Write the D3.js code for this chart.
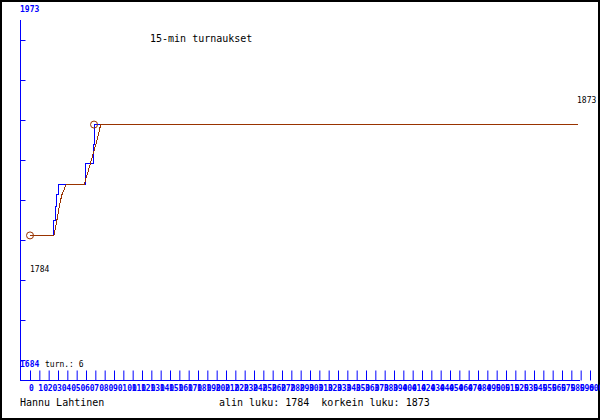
<!DOCTYPE html>
<html>
<head>
<meta charset="utf-8">
<script src="https://cdn.jsdelivr.net/npm/d3@7"></script>
<style>
  body { margin: 0; background: #fff; }
  svg text { font-family: "DejaVu Sans Mono", monospace; white-space: pre; }
</style>
</head>
<body>
<div id="chart"></div>
<script>
// rating history (x = game index, y = rating)
const actualX = [0, 25.7, 26.8, 28.9, 30.7, 59.5, 67.8, 68.6, 587];
const actualY = [1784, 1796, 1807, 1817, 1824.5, 1842, 1856.7, 1873, 1873];
const smoothX = [0, 25.7, 27.9, 31.1, 34, 38.6, 57.9, 62.1, 66.4, 70.7, 75.8, 587];
const smoothY = [1784, 1784, 1792.3, 1806, 1816.4, 1824.5, 1824.5, 1835, 1846, 1857.5, 1873, 1873];
const minRating = 1784;
const maxRating = 1873;
const yMin = 1684;
const yMax = 1973;
const tournaments = 6;
const xTicks = d3.range(0, 610, 10);

const W = 600, H = 420;
const BLUE = "#0000ff", BROWN = "#993300";

const svg = d3.select("#chart").append("svg")
    .attr("width", W).attr("height", H);

svg.append("rect")
    .attr("x", 1).attr("y", 1).attr("width", W - 2).attr("height", H - 2)
    .attr("fill", "#fff").attr("stroke", "#000").attr("stroke-width", 2);

const x = d3.scaleLinear().domain([0, 600]).range([30, 590]);
const y = d3.scaleLinear().domain([yMin, yMax]).range([360, 0]);

// y axis
svg.append("line")
    .attr("x1", 20.5).attr("x2", 20.5).attr("y1", 20).attr("y2", 380)
    .attr("stroke", BLUE);
const yTickVals = d3.range(0, 9).map(k => yMin + k * (yMax - yMin) / 9);
const yAxis = svg.append("g")
    .attr("transform", "translate(20.5,0)")
    .call(d3.axisRight(y).tickValues(yTickVals).tickSize(5).tickFormat(""));
yAxis.select(".domain").remove();
yAxis.selectAll("line").attr("stroke", BLUE);

// x axis
svg.append("line")
    .attr("x1", 20).attr("x2", 580).attr("y1", 380.5).attr("y2", 380.5)
    .attr("stroke", BLUE);
const xAxis = svg.append("g")
    .attr("transform", "translate(0,380.5)")
    .call(d3.axisBottom(x).tickValues(xTicks).tickSizeInner(-10).tickSizeOuter(0).tickPadding(5));
xAxis.select(".domain").remove();
xAxis.selectAll("line").attr("stroke", BLUE);
xAxis.selectAll("text")
    .attr("fill", BLUE)
    .attr("text-anchor", "start")
    .attr("dx", -1.5)
    .style("font-family", "'DejaVu Sans Mono', monospace")
    .style("font-size", "8px")
    .style("font-weight", "bold");

// lines
const actual = actualX.map((v, i) => [v, actualY[i]]);
const smooth = smoothX.map((v, i) => [v, smoothY[i]]);

svg.append("path")
    .datum(actual)
    .attr("fill", "none").attr("stroke", BLUE).attr("stroke-width", 1)
    .attr("shape-rendering", "crispEdges")
    .attr("d", d3.line().x(d => x(d[0])).y(d => y(d[1])).curve(d3.curveStepAfter));

svg.append("path")
    .datum(smooth)
    .attr("fill", "none").attr("stroke", BROWN).attr("stroke-width", 1)
    .attr("shape-rendering", "crispEdges")
    .attr("d", d3.line().x(d => x(d[0])).y(d => y(d[1])));

// start / end markers
svg.selectAll(".mark")
    .data([actual[0], actual[actual.length - 2]])
    .join("circle")
    .attr("class", "mark")
    .attr("cx", d => x(d[0])).attr("cy", d => y(d[1]))
    .attr("r", 3.5)
    .attr("fill", "none").attr("stroke", BROWN);

// texts
function txt(t, px, py, size, color, weight) {
    svg.append("text")
        .attr("x", px).attr("y", py)
        .attr("fill", color || "#000")
        .style("font-size", size + "px")
        .style("font-weight", weight || "normal")
        .text(t);
}
txt(String(yMax), 20, 12, 8, BLUE, "bold");
txt(String(yMin), 20, 367, 8, BLUE, "bold");
txt("turn.: " + tournaments, 45, 367, 8, "#000");
txt("15-min turnaukset", 150, 42, 10, "#000");
txt(String(minRating), 30, y(minRating) + 37, 8, "#000");
txt(String(maxRating), 577, y(maxRating) - 22, 8, "#000");
txt("Hannu Lahtinen", 20, 406, 10, "#000");
txt("alin luku: " + minRating + "  korkein luku: " + maxRating, 219, 406, 10, "#000");
</script>
</body>
</html>
